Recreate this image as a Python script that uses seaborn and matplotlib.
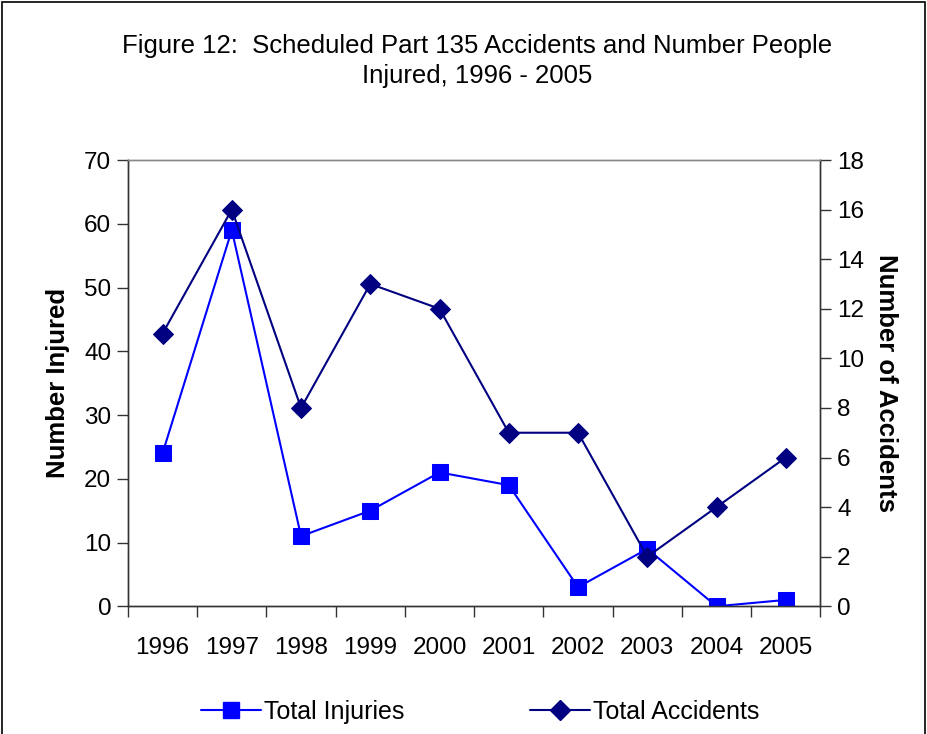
import matplotlib
matplotlib.use("Agg")
import matplotlib.pyplot as plt
import seaborn as sns
import pandas as pd
import numpy as np
from matplotlib.lines import Line2D
from matplotlib.patches import Rectangle

years = ["1996", "1997", "1998", "1999", "2000", "2001", "2002", "2003", "2004", "2005"]
injuries = [24, 59, 11, 15, 21, 19, 3, 9, 0, 1]
accidents = [11, 16, 8, 13, 12, 7, 7, 2, 4, 6]

sns.set_theme(style="white")
plt.rcParams['font.family'] = ['Liberation Sans', 'DejaVu Sans']
plt.rcParams['text.color'] = 'black'
plt.rcParams['axes.labelcolor'] = 'black'
plt.rcParams['xtick.labelcolor'] = 'black'
plt.rcParams['ytick.labelcolor'] = 'black'

df = pd.DataFrame({"pos": np.arange(len(years)), "year": years,
                   "injuries": injuries, "accidents": accidents})

fig = plt.figure(figsize=(9.27, 7.34), dpi=100)
ax = fig.add_axes([0.138, 0.174, 0.747, 0.608])
ax2 = ax.twinx()

c_inj = "#0000FF"
c_acc = "#000080"

sns.lineplot(data=df, x="pos", y="injuries", ax=ax, color=c_inj, marker="s",
             markersize=11, markeredgecolor=c_inj, linewidth=1.5, zorder=3)
sns.lineplot(data=df, x="pos", y="accidents", ax=ax2, color=c_acc, marker="D",
             markersize=10, markeredgecolor=c_acc, linewidth=1.5, zorder=3)

ax.set_xlim(-0.5, len(years) - 0.5)
ax.set_ylim(0, 70)
ax2.set_ylim(0, 18)
ax.set_yticks(range(0, 71, 10))
ax2.set_yticks(range(0, 19, 2))

fs = 17.5
ax.set_xticks(np.arange(-0.5, len(years), 1.0))
ax.set_xticklabels([])
ax.set_xticks(np.arange(len(years)), minor=True)
ax.set_xticklabels(years, minor=True, fontsize=fs)
ax.tick_params(axis="x", which="minor", length=0, pad=22)
ax.tick_params(axis="x", which="major", length=8, width=1, color="#333333", direction="out", bottom=True)
ax.tick_params(axis="y", length=8, width=1, color="#333333", direction="out", left=True, labelsize=fs, pad=4)
ax2.tick_params(axis="y", length=8, width=1, color="#333333", direction="out", right=True, labelsize=fs, pad=4)

ax.set_xlabel("")
ax.set_ylabel("Number Injured", fontsize=18.5, fontweight="bold", labelpad=10)
ax2.set_ylabel("Number of Accidents", fontsize=18.5, fontweight="bold", rotation=270, labelpad=24)

for a in (ax, ax2):
    for s in a.spines.values():
        s.set_color("#333333")
        s.set_linewidth(1)
    a.spines["top"].set_color("#888888")
    a.grid(False)

fig.text(0.515, 0.917, "Figure 12:  Scheduled Part 135 Accidents and Number People\nInjured, 1996 - 2005",
         ha="center", va="center", fontsize=18.5, linespacing=1.3)

handles = [Line2D([0], [0], color=c_inj, marker="s", markersize=11, linewidth=1.5),
           Line2D([0], [0], color=c_acc, marker="D", markersize=10, linewidth=1.5)]
fig.legend(handles, ["Total Injuries", "Total Accidents"], loc="center",
           bbox_to_anchor=(0.518, 0.03), ncol=2, frameon=False, fontsize=18,
           columnspacing=5, handlelength=2.4, handletextpad=0.15)

fig.patches.append(Rectangle((0.002, -0.01), 0.996, 1.007, transform=fig.transFigure,
                             fill=False, edgecolor="black", linewidth=1.2))

fig.savefig("out.png", dpi=100)
